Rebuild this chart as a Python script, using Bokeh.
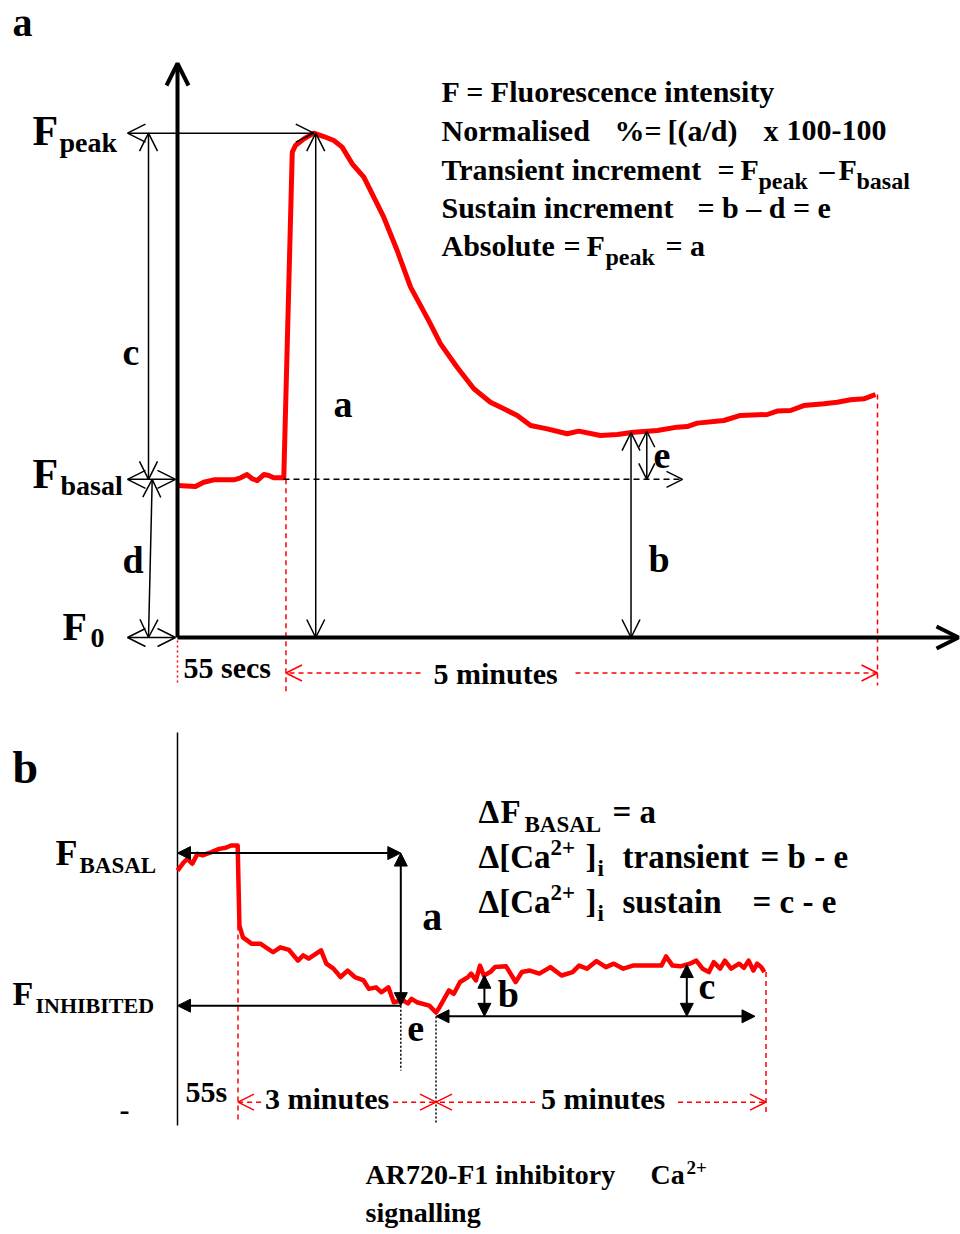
import numpy as np
from bokeh.plotting import figure
from bokeh.layouts import column
from bokeh.models import Range1d, Arrow, OpenHead, NormalHead, ColumnDataSource
from bokeh.core.properties import value, field
from bokeh.embed import file_html
from bokeh.resources import INLINE

# ----------------------------------------------------------------------
# Panel a: stimulated Ca2+ response (time in s, fluorescence in a.u.)
time_a = [0, 9.1, 13.3, 18.4, 28.6, 32.0, 35.3, 37.9, 40.4, 43.8, 46.3, 48.8, 53.9,
          58.2, 59.8, 64.1, 69.1, 74.2, 79.3, 83.5, 88.6, 94.5, 104.6, 111.4, 118.2,
          127.4, 133.4, 141.8, 150.3, 158.7, 165.5, 172.3, 179.1, 187.5, 197.6, 203.5,
          214.5, 223.0, 231.4, 243.3, 253.4, 258.5, 263.6, 277.1, 285.5, 299.1, 304.1,
          310.9, 317.6, 327.8, 334.6, 341.3, 348.1, 354.0]
fluo_a = [98.7, 98.1, 100.8, 102.4, 102.4, 103.7, 105.8, 103.1, 101.9, 105.8, 105.2, 103.7, 103.7,
          315.1, 319.5, 323.8, 327.5, 325.3, 322.7, 318.4, 307.6, 298.9, 272.9, 251.3, 227.5,
          205.8, 190.7, 175.5, 161.5, 152.8, 148.5, 144.2, 137.7, 135.5, 132.3, 134.0,
          131.2, 131.8, 133.3, 134.4, 136.6, 137.0, 139.2, 140.9, 144.2, 144.8, 147.0,
          147.4, 150.6, 151.8, 152.8, 154.4, 155.0, 157.8]

T_STIM_A = 55        # agonist added
T_END_A = 355        # 5 minutes after addition
T_SUSTAIN_A = 230    # sustained level read here (b)
T_E_A = 238          # sustain increment read here (e)

# ----------------------------------------------------------------------
# Panel b: inhibitory response (time in s, fluorescence in a.u.)
time_b = [0, 5.8, 8.9, 13.5, 18.1, 22.7, 30.3, 37.9, 44.0, 48.6, 54.7,
          56.3, 59.5, 67.6, 75.6, 86.9, 93.4, 101.4, 109.5, 114.3, 119.2,
          130.5, 135.3, 141.8, 148.2, 154.7, 161.2, 169.2, 174.0, 180.5, 185.4,
          191.7, 196.6, 204.7, 209.5, 212.7, 217.6, 228.9, 235.0,
          238.2, 246.8, 251.2, 256.9, 264.1, 267.0, 271.3, 275.0, 278.5, 284.3,
          288.6, 298.7, 307.4, 313.1, 320.3, 329.0, 339.0, 349.1, 359.2, 365.0,
          372.2, 380.9, 389.5, 396.7, 405.3, 414.0, 425.5, 439.9, 444.2, 450.0,
          457.2, 465.8, 471.6, 477.3, 483.1, 487.5, 493.3, 497.6, 503.3, 510.6,
          514.9, 519.2, 523.5, 527.0, 530.7, 533.5]
fluo_b = [95.4, 97.6, 98.5, 97.2, 99.8, 99.4, 100.2, 101.1, 101.4, 102.0, 102.0,
          81.0, 77.9, 76.2, 76.2, 74.0, 75.3, 74.6, 71.8, 73.2, 72.3,
          74.5, 71.0, 69.7, 67.5, 69.2, 67.5, 66.6, 64.4, 64.8, 63.5,
          64.8, 60.9, 61.4, 60.6, 61.8, 60.9, 60.0, 58.2,
          59.6, 64.0, 63.1, 66.2, 67.5, 68.4, 66.6, 70.5, 67.9, 68.8,
          70.1, 70.3, 66.2, 68.8, 69.2, 68.4, 70.1, 67.9, 68.8, 70.5,
          69.7, 71.7, 70.1, 71.0, 69.7, 70.5, 70.5, 70.5, 72.9, 70.5,
          70.3, 71.0, 71.8, 69.7, 68.8, 71.4, 69.7, 71.8, 69.7, 71.0,
          69.9, 71.8, 69.2, 71.0, 70.1, 68.8]

T_STIM_B = 55
T_INHIB_B = 203      # inhibited level read here
T_MIN_B = 235        # end of the 3-minute period
T_END_B = 535        # end of the following 5 minutes
T_B_B = 279          # transient read here (b)
T_C_B = 463          # sustained read here (c)
F_BASAL_B = 100
F_INHIB_B = 60

# ----------------------------------------------------------------------
# page geometry
W = 960
H_A, H_B = 700, 534
X0 = 177
KX_A = 700 / 355
KY_A = 1.54
Y0_A = 637
KX_B = 1.1
Y_TOP_B = 140
KY_B = H_B / Y_TOP_B
BASE_SHIFT = 0.35    # raise text anchors by this fraction of the font size

RED = "#ff0000"
FONT = value("Liberation Serif")


def pa(px, py):
    return (px - X0) / KX_A, (Y0_A - py) / KY_A


def pb(px, py):
    return (px - X0) / KX_B, Y_TOP_B - (py - H_A) / KY_B


def pb_seg(px, py):
    # position along the schematic time axis of panel b (55 s / 3 min / 5 min)
    t = float(np.interp(px, [177, 237, 423, 770], [0, 55, 235, 535]))
    return t, pb(px, py)[1]


def make_fig(h, xr, yr):
    p = figure(width=W, height=h, x_range=Range1d(*xr), y_range=Range1d(*yr),
               toolbar_location=None, output_backend="svg",
               x_axis_location=None, y_axis_location=None, min_border=0)
    p.grid.visible = False
    p.outline_line_color = None
    p.background_fill_color = "white"
    p.border_fill_color = "white"
    return p


def add_text(p, items, conv, align="left"):
    xs, ys, ts, ss = [], [], [], []
    for txt, px, py, size in items:
        x, y = conv(px, py - BASE_SHIFT * size)
        xs.append(x)
        ys.append(y)
        ts.append(txt)
        ss.append(f"{size}px")
    src = ColumnDataSource(dict(x=xs, y=ys, text=ts, size=ss))
    p.text(x="x", y="y", text="text", source=src, text_font=FONT,
           text_font_style="bold", text_font_size=field("size"),
           text_baseline="alphabetic", text_align=align, text_color="black")


def arrow(p, x0, y0, x1, y1, start=True, end=True, head="open", size=16,
          lw=1.5, color="black", dash="solid"):
    def mk():
        if head == "open":
            return OpenHead(size=size, line_width=lw, line_color=color)
        return NormalHead(size=size, line_color=color, fill_color=color, line_width=1)
    p.add_layout(Arrow(x_start=x0, y_start=y0, x_end=x1, y_end=y1,
                       start=mk() if start else None, end=mk() if end else None,
                       line_width=lw, line_color=color, line_dash=dash))


# ======================================================================
# Panel a
fig_a = make_fig(H_A, (-X0 / KX_A, (W - X0) / KX_A), ((Y0_A - H_A) / KY_A, Y0_A / KY_A))
ta, fa = np.array(time_a), np.array(fluo_a)
i_pk = int(np.argmax(fa))
t_pk, f_pk = ta[i_pk], fa[i_pk]
f_basal = fa[ta < T_STIM_A].mean()
f_sus = float(np.interp(T_SUSTAIN_A, ta, fa))
f_e = float(np.interp(T_E_A, ta, fa))

t_left = pa(127, 0)[0]
t_near = pa(175, 0)[0]
t_c = pa(148, 0)[0]
t_d = pa(151.7, 0)[0]

# red guide lines and the time brackets
fig_a.segment(x0=[0], y0=[pa(0, 640)[1]], x1=[0], y1=[pa(0, 683)[1]],
              line_color=RED, line_width=1.5, line_dash="2 3")
fig_a.segment(x0=[T_STIM_A, T_END_A], y0=[f_basal, fa[-1]],
              x1=[T_STIM_A, T_END_A], y1=[pa(0, 692)[1], pa(0, 685)[1]],
              line_color=RED, line_width=1.5, line_dash="5 4")
y_br = pa(0, 672.5)[1]
arrow(fig_a, pa(420, 0)[0], y_br, T_STIM_A, y_br, start=False, color=RED, dash="5 4", size=16)
arrow(fig_a, pa(575, 0)[0], y_br, T_END_A, y_br, start=False, color=RED, dash="5 4", size=16)

# basal reference line
arrow(fig_a, pa(283, 0)[0], f_basal, pa(682, 0)[0], f_basal, start=False, dash="6 4", size=16)

# measurement arrows
arrow(fig_a, t_left, f_pk, t_pk, f_pk, size=18)
arrow(fig_a, t_c, f_pk, t_c, f_basal, size=18)
arrow(fig_a, t_d, f_basal, t_c, 0, size=18)
arrow(fig_a, t_left, f_basal, t_near, f_basal, size=18)
arrow(fig_a, t_left, 0, t_near, 0, size=18)
arrow(fig_a, t_pk + 1, 0, t_pk + 1, f_pk, size=18)
arrow(fig_a, T_SUSTAIN_A, 0, T_SUSTAIN_A, f_sus, size=18)
arrow(fig_a, T_E_A, f_basal, T_E_A, f_e, size=16)

# axes
arrow(fig_a, 0, 0, 0, pa(0, 63)[1], start=False, lw=4, size=22)
arrow(fig_a, 0, 0, pa(958, 0)[0], 0, start=False, lw=4, size=22)

# trace
fig_a.line(time_a, fluo_a, line_color=RED, line_width=5, line_join="round")

add_text(fig_a, [
    ("a", 12, 36, 40),
    ("F", 32, 145, 42), ("peak", 59, 152, 28),
    ("F", 32, 488, 42), ("basal", 60, 495, 28),
    ("F", 62, 640, 40), ("0", 90, 647, 28),
    ("c", 122, 365, 38), ("d", 122, 573, 38),
    ("a", 333, 417, 38), ("b", 648, 572, 38), ("e", 653, 468, 38),
    ("55 secs", 183, 677, 30), ("5 minutes", 433, 683, 30),
    ("F = Fluorescence  intensity", 441, 101, 30),
    ("Normalised", 441, 140, 30), ("%=", 614, 140, 30), ("[(a/d)", 667, 140, 30),
    ("x", 763, 140, 30), ("100-100", 786, 140, 30),
    ("Transient increment", 441, 179, 30), ("=", 717, 179, 30), ("F", 740, 179, 30),
    ("peak", 758, 189, 24), ("\u2013", 819, 179, 30), ("F", 838, 179, 30),
    ("basal", 856, 189, 24),
    ("Sustain increment", 441, 217, 30), ("= b \u2013 d = e", 697, 217, 30),
    ("Absolute", 441, 255, 30), ("=", 563, 255, 30), ("F", 586, 255, 30),
    ("peak", 605, 265, 24), ("= a", 665, 255, 30),
], pa)

# ======================================================================
# Panel b
fig_b = make_fig(H_B, (-X0 / KX_B, (W - X0) / KX_B), (0, Y_TOP_B))
tb, fb = np.array(time_b), np.array(fluo_b)
f_min = fb[int(np.argmin(fb))]
f_e_b = f_min - 1.0
f_b = float(np.interp(T_B_B, tb, fb))
f_c = float(np.interp(T_C_B, tb, fb))
f_drop = fb[tb > T_STIM_B][0]

# vertical reference axis
fig_b.line([0, 0], [pb(0, 1125)[1], pb(0, 732)[1]], line_color="black", line_width=1.5)

# red guide lines and the time brackets
fig_b.segment(x0=[T_STIM_B, T_END_B], y0=[f_drop, fb[-1]],
              x1=[T_STIM_B, T_END_B], y1=[pb(0, 1123)[1], pb(0, 1113)[1]],
              line_color=RED, line_width=1.5, line_dash="5 4")
y_br_b = pb(0, 1101.7)[1]
arrow(fig_b, 76, y_br_b, T_STIM_B, y_br_b, start=False, color=RED, dash="5 4", size=16)
arrow(fig_b, 196, y_br_b, T_MIN_B, y_br_b, start=False, color=RED, dash="5 4", size=16)
arrow(fig_b, 325, y_br_b, T_MIN_B, y_br_b, start=False, color=RED, dash="5 4", size=16)
arrow(fig_b, 455, y_br_b, T_END_B, y_br_b, start=False, color=RED, dash="5 4", size=16)

# dotted markers
fig_b.segment(x0=[T_INHIB_B, T_MIN_B], y0=[F_INHIB_B, f_min],
              x1=[T_INHIB_B, T_MIN_B], y1=[pb(0, 1070)[1], pb(0, 1122)[1]],
              line_color="black", line_width=1.5, line_dash="2 2")

# measurement arrows
arrow(fig_b, 0, F_BASAL_B, T_INHIB_B, F_BASAL_B, head="normal", size=13, lw=2)
arrow(fig_b, T_INHIB_B, F_INHIB_B, T_INHIB_B, F_BASAL_B, head="normal", size=13, lw=2)
arrow(fig_b, T_INHIB_B, F_INHIB_B, 0, F_INHIB_B, start=False, head="normal", size=13, lw=2)
arrow(fig_b, T_MIN_B, f_e_b, 525, f_e_b, head="normal", size=13, lw=2)
arrow(fig_b, T_B_B, f_e_b, T_B_B, f_b, head="normal", size=13, lw=2)
arrow(fig_b, T_C_B, f_e_b, T_C_B, f_c, head="normal", size=13, lw=2)

# trace
fig_b.line(time_b, fluo_b, line_color=RED, line_width=4.5, line_join="round")

add_text(fig_b, [
    ("b", 12, 783, 46),
    ("F", 55, 865, 36), ("BASAL", 79, 873, 23),
    ("F", 12, 1005, 34), ("INHIBITED", 35, 1013, 22),
    ("-", 119, 1120, 30),
    ("\u0394", 478, 823, 33), ("F", 500, 823, 33), ("BASAL", 524, 832, 23), ("= a", 612, 823, 33),
    ("\u0394[Ca", 478, 868, 33), ("2+", 550, 855, 23), ("]", 585, 868, 33), ("i", 597, 876, 23),
    ("transient", 622, 868, 33), ("=  b  -  e", 760, 868, 33),
    ("\u0394[Ca", 478, 913, 33), ("2+", 550, 900, 23), ("]", 585, 913, 33), ("i", 597, 921, 23),
    ("sustain", 622, 913, 33), ("= c - e", 752, 913, 33),
    ("AR720-F1 inhibitory", 365, 1184, 28), ("Ca", 650, 1184, 28), ("2+", 686, 1174, 19),
    ("signalling", 365, 1222, 28),
], pb)

add_text(fig_b, [
    ("a", 410, 930, 40), ("e", 396, 1041, 38), ("b", 488, 1007, 38),
    ("c", 699, 999, 38), ("55s", 185, 1101, 30),
], pb_seg)

y_seg = pb(0, 1108 - BASE_SHIFT * 30)[1]
src_seg = ColumnDataSource(dict(x=[136, 387], y=[y_seg] * 2,
                                text=["3 minutes", "5 minutes"]))
fig_b.text(x="x", y="y", text="text", source=src_seg, text_font=FONT,
           text_font_style="bold", text_font_size="30px",
           text_baseline="alphabetic", text_align="center", text_color="black")

layout = column(fig_a, fig_b, spacing=0)
open("out.html", "w").write(file_html(layout, INLINE, title="Ca2+ signalling"))
